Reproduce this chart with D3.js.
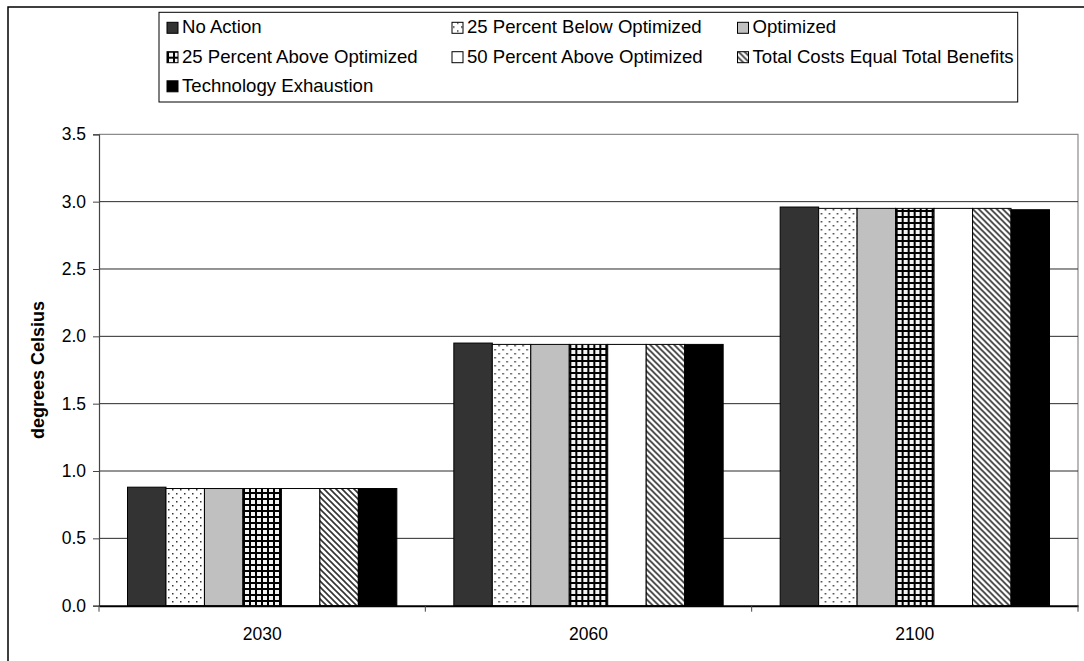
<!DOCTYPE html>
<html>
<head>
<meta charset="utf-8">
<script src="https://cdn.jsdelivr.net/npm/d3@7"></script>
<style>
  html, body { margin: 0; padding: 0; background: #fff; }
  svg { display: block; font-family: "Liberation Sans", Arial, sans-serif; }
</style>
</head>
<body>
<svg id="chart" width="1084" height="661"></svg>
<script>
// Projected temperature increase by scenario (degrees Celsius)
const years = ["2030", "2060", "2100"];
const seriesNames = [
  "No Action",
  "25 Percent Below Optimized",
  "Optimized",
  "25 Percent Above Optimized",
  "50 Percent Above Optimized",
  "Total Costs Equal Total Benefits",
  "Technology Exhaustion"
];
const noAction       = [0.88, 1.95, 2.96];
const below25        = [0.87, 1.94, 2.95];
const optimized      = [0.87, 1.94, 2.95];
const above25        = [0.87, 1.94, 2.95];
const above50        = [0.87, 1.94, 2.95];
const costsBenefits  = [0.87, 1.94, 2.95];
const techExhaustion = [0.87, 1.94, 2.94];
const yTicks = [0, 0.5, 1.0, 1.5, 2.0, 2.5, 3.0, 3.5];

const seriesValues = [noAction, below25, optimized, above25, above50, costsBenefits, techExhaustion];
const fills = ["#333333", "url(#dots)", "#c0c0c0", "url(#grid)", "#ffffff", "url(#diag)", "#000000"];

const svg = d3.select("#chart");

// Fill patterns
const defs = svg.append("defs");
const dots = defs.append("pattern").attr("id", "dots")
  .attr("patternUnits", "userSpaceOnUse").attr("width", 8).attr("height", 8);
dots.append("rect").attr("width", 8).attr("height", 8).attr("fill", "#fff");
[[1, 1], [5, 5]].forEach(([cx, cy]) =>
  dots.append("rect").attr("x", cx).attr("y", cy).attr("width", 1.5).attr("height", 1.5).attr("fill", "#333"));

const grid = defs.append("pattern").attr("id", "grid")
  .attr("patternUnits", "userSpaceOnUse").attr("width", 6).attr("height", 6);
grid.append("rect").attr("width", 6).attr("height", 6).attr("fill", "#000");
grid.append("rect").attr("x", 2).attr("y", 2).attr("width", 4).attr("height", 4).attr("fill", "#f4f4f4");

const diag = defs.append("pattern").attr("id", "diag")
  .attr("patternUnits", "userSpaceOnUse").attr("width", 6).attr("height", 6);
diag.append("rect").attr("width", 6).attr("height", 6).attr("fill", "#fff");
diag.append("path").attr("d", "M-1,-1 L7,7 M-4,2 L2,8 M2,-4 L8,2")
  .attr("stroke", "#333").attr("stroke-width", 1.6);

// Outer chart frame
svg.append("rect").attr("x", 8).attr("y", 7).attr("width", 1100).attr("height", 700)
  .attr("fill", "none").attr("stroke", "#000").attr("stroke-width", 1.5);

// Scales
const plot = { left: 99, right: 1078, top: 134.3, bottom: 605.7 };
const x0 = d3.scaleBand().domain(years).range([plot.left, plot.right]);
const groupPad = 28.5;
const x1 = d3.scaleBand().domain(d3.range(seriesNames.length))
  .range([groupPad, x0.bandwidth() - groupPad]);
const y = d3.scaleLinear().domain([0, 3.5]).range([plot.bottom, plot.top]);

// Plot area border (top and right)
svg.append("path")
  .attr("d", `M${plot.left},${plot.top}H${plot.right}V${plot.bottom}`)
  .attr("fill", "none").attr("stroke", "#8c8c8c").attr("stroke-width", 1.2);

// Gridlines
svg.append("g").selectAll("line")
  .data(yTicks.filter(t => t > 0 && t < 3.5))
  .join("line")
  .attr("x1", plot.left).attr("x2", plot.right)
  .attr("y1", d => y(d)).attr("y2", d => y(d))
  .attr("stroke", "#2a2a2a").attr("stroke-width", 1);

// Bars
const groups = svg.append("g").selectAll("g")
  .data(years)
  .join("g")
  .attr("transform", d => `translate(${x0(d)},0)`);

groups.selectAll("rect")
  .data((yr, i) => seriesValues.map((vals, s) => ({ s, v: vals[i] })))
  .join("rect")
  .attr("x", d => x1(d.s))
  .attr("width", x1.bandwidth())
  .attr("y", d => y(d.v))
  .attr("height", d => y(0) - y(d.v))
  .attr("fill", d => fills[d.s])
  .attr("stroke", "#000").attr("stroke-width", 1);

// Y axis
const yAxis = svg.append("g")
  .attr("transform", `translate(${plot.left},0)`)
  .call(d3.axisLeft(y).tickValues(yTicks).tickFormat(d3.format(".1f")).tickSize(6).tickPadding(7));
yAxis.select(".domain").attr("stroke", "#444").attr("stroke-width", 1.2);
yAxis.selectAll(".tick line").attr("stroke", "#444");
yAxis.selectAll("text").attr("font-size", 17.5).attr("fill", "#000")
  .attr("font-family", "'Liberation Sans', Arial, sans-serif");

// X axis
const xAxis = svg.append("g")
  .attr("transform", `translate(0,${plot.bottom})`)
  .call(d3.axisBottom(x0).tickSize(0).tickPadding(22));
xAxis.select(".domain").attr("stroke", "#000").attr("stroke-width", 2);
xAxis.selectAll("text").attr("font-size", 17.5).attr("fill", "#000")
  .attr("font-family", "'Liberation Sans', Arial, sans-serif");
// Category separators
xAxis.append("g").selectAll("line")
  .data(years.map(d => x0(d)).concat([plot.right]))
  .join("line")
  .attr("x1", d => d).attr("x2", d => d)
  .attr("y1", 0).attr("y2", 6)
  .attr("stroke", "#444").attr("stroke-width", 1);

// Y axis title
svg.append("text")
  .attr("transform", `translate(43.5,${(plot.top + plot.bottom) / 2}) rotate(-90)`)
  .attr("text-anchor", "middle")
  .attr("font-size", 18).attr("font-weight", "bold")
  .text("degrees Celsius");

// Legend
const legend = svg.append("g");
legend.append("rect").attr("x", 159).attr("y", 12.3).attr("width", 858.7).attr("height", 89.7)
  .attr("fill", "#fff").attr("stroke", "#000").attr("stroke-width", 1);
const colX = [167, 452, 737.5];
const rowY = [33.3, 62.7, 91.8];
const items = legend.selectAll("g.item")
  .data(seriesNames)
  .join("g").attr("class", "item")
  .attr("transform", (d, i) => `translate(${colX[i % 3]},${rowY[Math.floor(i / 3)]})`);
items.append("rect")
  .attr("x", 0).attr("y", -11).attr("width", 11).attr("height", 11)
  .attr("fill", (d, i) => fills[i]).attr("stroke", "#000").attr("stroke-width", 1);
items.append("text")
  .attr("x", 15).attr("y", 0)
  .attr("font-size", 18.6)
  .text(d => d);
</script>
</body>
</html>
